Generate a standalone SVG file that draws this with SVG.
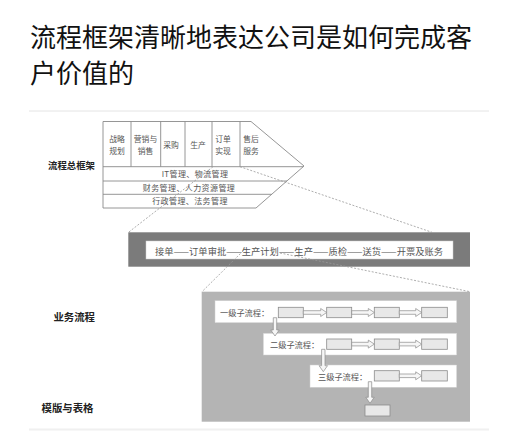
<svg xmlns="http://www.w3.org/2000/svg" width="512" height="440" viewBox="0 0 512 440">
<defs>
<style>
.t{font-family:"Noto Sans CJK SC","Noto Sans",sans-serif;}
.title{font-size:26px;fill:#111;}
.lbl{font-size:10.4px;font-weight:bold;fill:#222;text-anchor:end;}
.cell{font-size:7.8px;fill:#555;text-anchor:middle;}
.row{font-size:8px;fill:#555;text-anchor:middle;letter-spacing:0.4px;}
.mid{font-size:8.6px;fill:#555;}
.sub{font-size:8.2px;fill:#555;}
.ln{fill:none;stroke:#8a8a8a;stroke-width:0.9;}
.box{fill:#e8e8e8;stroke:#8c8c8c;stroke-width:0.8;}
.strip{fill:#ffffff;stroke:#d0d0d0;stroke-width:0.5;}
.dash{fill:none;stroke:#999;stroke-width:0.8;stroke-dasharray:2 1.6;}
.arr{fill:#f6f6f6;stroke:#8c8c8c;stroke-width:0.7;stroke-linejoin:miter;}
</style>
</defs>
<rect x="0" y="0" width="512" height="440" fill="#ffffff"/>
<g id="title">
<text class="t title" x="30" y="47">流程框架清晰地表达公司是如何完成客</text>
<text class="t title" x="30" y="83">户价值的</text>
</g>
<line x1="29" y1="111" x2="489" y2="111" stroke="#e4e4e4" stroke-width="1"/>
<line x1="29" y1="429.5" x2="489" y2="429.5" stroke="#f0f0f0" stroke-width="2"/>
<g id="labels">
<text class="t lbl" x="95" y="168.5" style="font-size:9.4px">流程总框架</text>
<text class="t lbl" x="95" y="321">业务流程</text>
<text class="t lbl" x="93.5" y="412">模版与表格</text>
</g>
<g id="framework">
<path class="ln" d="M103,121.5 H251 L304,166 L256,208 H103 Z" fill="#fff"/>
<path class="ln" d="M131,121.5 V166.7 M160.7,121.5 V166.7 M185,121.5 V166.7 M212,121.5 V166.7 M240,121.5 V166.7 M103,166.7 H303.2 M103,181 H287 M103,194.3 H271.7"/>
<text class="t cell" x="117" y="142">战略</text>
<text class="t cell" x="117" y="153.5">规划</text>
<text class="t cell" x="145.5" y="142">营销与</text>
<text class="t cell" x="145.5" y="153.5">销售</text>
<text class="t cell" x="171" y="147.5">采购</text>
<text class="t cell" x="198" y="147.5">生产</text>
<text class="t cell" x="223" y="142">订单</text>
<text class="t cell" x="223" y="153.5">实现</text>
<text class="t cell" x="251" y="142">售后</text>
<text class="t cell" x="251" y="153.5">服务</text>
<text class="t row" x="195" y="176.5">IT管理、物流管理</text>
<text class="t row" x="189" y="190.5">财务管理、人力资源管理</text>
<text class="t row" x="190" y="204">行政管理、法务管理</text>
</g>
<g id="main-flow">
<rect x="128.3" y="232.3" width="341.7" height="34.4" fill="#7b7b7b"/>
<rect x="146" y="241" width="307" height="18" fill="#ffffff" stroke="#cfcfcf" stroke-width="0.5"/>
<text class="t mid" x="155" y="254.7" textLength="288" lengthAdjust="spacingAndGlyphs">接单——订单审批——生产计划——生产——质检——送货——开票及账务</text>
</g>
<g id="business-flow">
<rect x="201.7" y="291.7" width="268.3" height="130" fill="#b4b4b4"/>
<g id="level1">
<rect class="strip" x="215" y="300.7" width="241.7" height="22"/>
<text class="t sub" x="220" y="316">一级子流程：</text>
<rect class="box" x="278.3" y="307.3" width="25" height="10.4"/>
<rect class="box" x="326.7" y="307.3" width="25" height="10.4"/>
<rect class="box" x="374.3" y="307.3" width="25" height="10.4"/>
<rect class="box" x="421.7" y="307.3" width="25.6" height="10.4"/>
</g>
<g id="level2">
<rect class="strip" x="263.3" y="333.3" width="193.4" height="21.7"/>
<text class="t sub" x="270" y="347.8">二级子流程：</text>
<rect class="box" x="326.7" y="339" width="25" height="10.3"/>
<rect class="box" x="374.3" y="339" width="25" height="10.3"/>
<rect class="box" x="421.7" y="339" width="25.6" height="10.3"/>
</g>
<g id="level3">
<rect class="strip" x="310" y="365" width="146.7" height="22.3"/>
<text class="t sub" x="318" y="380">三级子流程：</text>
<rect class="box" x="374.3" y="370.7" width="25" height="10.3"/>
<rect class="box" x="421.7" y="370.7" width="25.6" height="10.3"/>
</g>
<g id="template">
<rect class="box" x="365" y="405" width="25" height="11"/>
</g>
</g>
<g id="connectors">
<line class="dash" x1="213" y1="166.7" x2="128.5" y2="232.3"/>
<line class="dash" x1="240" y1="166.7" x2="432" y2="232.3"/>
<line class="dash" x1="243" y1="251" x2="202" y2="291.7"/>
<line class="dash" x1="280" y1="253" x2="470" y2="291.7"/>
<polygon class="arr" points="303.3,310.7 320.7,310.7 320.7,308.5 326.7,312.5 320.7,316.5 320.7,314.3 303.3,314.3"/>
<polygon class="arr" points="351.7,310.7 368.3,310.7 368.3,308.5 374.3,312.5 368.3,316.5 368.3,314.3 351.7,314.3"/>
<polygon class="arr" points="399.3,310.7 415.7,310.7 415.7,308.5 421.7,312.5 415.7,316.5 415.7,314.3 399.3,314.3"/>
<polygon class="arr" points="351.7,342.3 368.3,342.3 368.3,340.1 374.3,344.1 368.3,348.1 368.3,345.9 351.7,345.9"/>
<polygon class="arr" points="399.3,342.3 415.7,342.3 415.7,340.1 421.7,344.1 415.7,348.1 415.7,345.9 399.3,345.9"/>
<polygon class="arr" points="399.3,374 415.7,374 415.7,371.8 421.7,375.8 415.7,379.8 415.7,377.6 399.3,377.6"/>
<polygon class="arr" points="273.3,317.7 276.7,317.7 276.7,330 279.2,330 275,336 270.8,330 273.3,330"/>
<polygon class="arr" points="321.6,349.3 325,349.3 325,365.7 327.5,365.7 323.3,371.7 319.1,365.7 321.6,365.7"/>
<polygon class="arr" points="368.3,381.7 371.7,381.7 371.7,397.3 374.2,397.3 370,403.3 365.8,397.3 368.3,397.3"/>
</g>
</svg>
